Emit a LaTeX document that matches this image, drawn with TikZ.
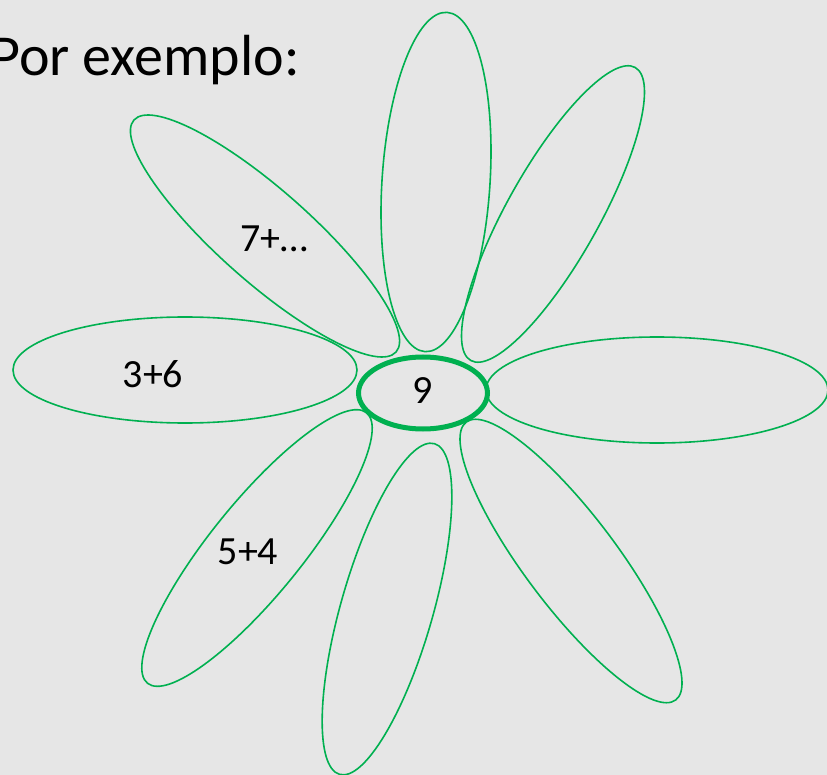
\documentclass[tikz,border=0pt]{standalone}
\usepackage{fontspec}
\setmainfont{Carlito}
\usepackage{xcolor}
\usepackage{tikz}
\usetikzlibrary{positioning}

\definecolor{petalgreen}{RGB}{0,176,80}
\definecolor{slidegray}{RGB}{230,230,230}

\begin{document}
\begin{tikzpicture}[
    x=1pt, y=-1pt,
    petal/.style={draw=petalgreen, line width=1.6pt},
    core/.style={draw=petalgreen, line width=5pt},
    sum/.style={inner sep=0pt, anchor=base, font=\fontsize{40}{48}\selectfont}
]

    % Slide background
    \fill[slidegray] (0,0) rectangle (827,775);
    \useasboundingbox (0,0) rectangle (827,775);

    % Title
    \node[inner sep=0pt, anchor=base west, font=\fontsize{58}{70}\selectfont] (title) at (-10,76) {Por exemplo:};

    % Petals: centre x / centre y / angle / half length / half width
    \foreach \cx/\cy/\ang/\a/\b in {
        436/182/86.3/170/54,
        553/214/60.7/168/46,
        657/390/0/171/53,
        571/561/-53/174/46,
        387/609/74/172/46,
        257/548/51/174/46,
        185/370/0/172/53,
        265/236/-41.5/175/46}
    {
        \draw[petal, rotate around={\ang:(\cx,\cy)}] (\cx,\cy) ellipse [x radius=\a, y radius=\b];
    }

    % Flower centre
    \draw[core] (423,393) ellipse [x radius=64.5, y radius=36];
    \node[sum] (nine) at (423,403) {9};

    % Sums on the petals
    \node[sum] (seven) at (274,252) {7+…};
    \node[sum] (three) at (153,388) {3+6};
    \node[sum] (five) at (248,564) {5+4};
\end{tikzpicture}
\end{document}
